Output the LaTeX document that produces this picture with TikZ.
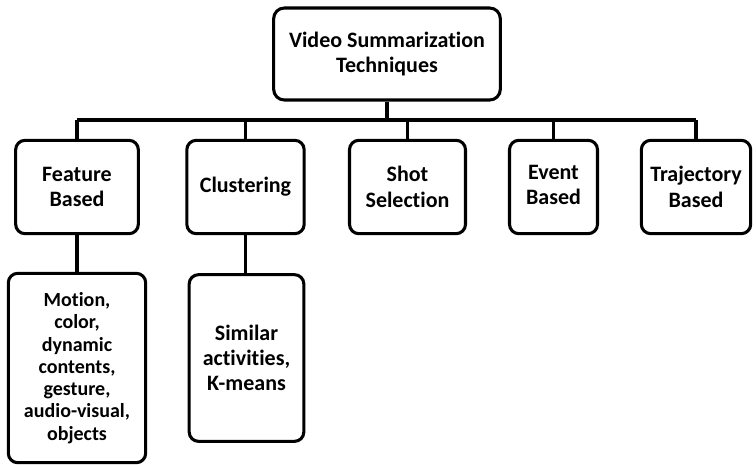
\documentclass[tikz,border=0pt]{standalone}
\usepackage{fontspec}
\setmainfont[Ligatures={NoCommon}]{Carlito}
\usetikzlibrary{calc,positioning}

\begin{document}
\begin{tikzpicture}[x=0.75pt,y=-0.75pt,line width=2.3pt,font=\fontsize{16.5}{19}\selectfont\bfseries]

\tikzset{topbox/.style={draw=black,fill=white,rounded corners=8pt,align=center,inner sep=0pt,minimum width=170pt,minimum height=69pt},
catbox/.style={draw=black,fill=white,rounded corners=7pt,align=center,inner sep=0pt,minimum height=70pt},
detailbox/.style={draw=black,fill=white,rounded corners=7pt,align=center,inner sep=0pt},
link/.style={draw=black,line width=2.8pt}}

\useasboundingbox (0,0) rectangle (756,464);

% Root
\node[topbox] (top) at (387,54) {Video Summarization\\Techniques};

% Categories
\node[catbox,minimum width=92pt] (feat) at (77,187) {Feature\\Based};
\node[catbox,minimum width=88pt] (clus) at (245.5,187) {Clustering};
\node[catbox,minimum width=87pt] (shot) at (407.5,187) {Shot\\Selection};
\node[catbox,minimum width=66pt] (event) at (553.5,187) {\raisebox{2.5pt}{\begin{tabular}{@{}c@{}}Event\\Based\end{tabular}}};
\node[catbox,minimum width=82pt] (traj) at (696,187) {Trajectory\\Based};

% Details
\node[detailbox,minimum width=103pt,minimum height=142pt,font=\fontsize{15}{16.7}\selectfont\bfseries] (featd) at (77,368) {Motion,\\color,\\dynamic\\contents,\\gesture,\\audio-visual,\\objects};
\node[detailbox,minimum width=86pt,minimum height=125pt] (clusd) at (246.5,358) {Similar\\activities,\\K-means};

% Bus
\coordinate (bus) at (0,120);
\draw[link] (top.south) -- (top.south |- bus);
\draw[link] (feat.north |- bus) -- (traj.north |- bus);
\foreach \n in {feat,clus,shot,event,traj} \draw[link] (\n.north |- bus) -- (\n.north);

% Sub branches
\draw[link] (feat.south) -- (feat.south |- featd.north);
\draw[link] (clus.south) -- (clus.south |- clusd.north);

\end{tikzpicture}
\end{document}
